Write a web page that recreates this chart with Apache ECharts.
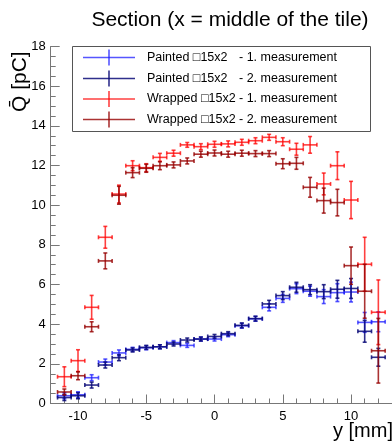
<!DOCTYPE html>
<html>
<head>
<meta charset="utf-8">
<script src="https://cdn.jsdelivr.net/npm/echarts@6/dist/echarts.min.js"></script>
<style>
html,body{margin:0;padding:0;background:#fff;}
#chart{width:392px;height:443px;}
</style>
</head>
<body>
<div id="chart"></div>
<script>
// ---- data ----
const yPositions = [-11,-10,-9,-8,-7,-6,-5,-4,-3,-2,-1,0,1,2,3,4,5,6,7,8,9,10,11,12];
const binHalfWidth = 0.5;
const xMajorTicks = [-10,-5,0,5,10];

const painted1    = [0.39,0.44,1.30,2.09,2.55,2.73,2.81,2.86,3.07,2.93,3.25,3.25,3.47,3.92,4.27,4.85,5.30,5.79,5.66,5.39,5.59,5.62,4.09,4.12];
const painted1Err = [0.15,0.15,0.15,0.15,0.15,0.10,0.10,0.10,0.10,0.10,0.10,0.10,0.10,0.12,0.12,0.18,0.20,0.25,0.25,0.35,0.45,0.50,0.50,0.50];

const painted2    = [0.30,0.39,0.93,1.94,2.31,2.70,2.83,2.86,3.00,3.20,3.25,3.38,3.52,3.94,4.28,5.02,5.44,5.86,5.74,5.64,5.76,5.80,3.64,2.33];
const painted2Err = [0.15,0.15,0.15,0.15,0.15,0.10,0.10,0.10,0.10,0.10,0.10,0.10,0.10,0.12,0.12,0.18,0.20,0.25,0.25,0.35,0.45,0.50,0.55,0.45];

const wrapped1    = [1.35,2.16,4.85,8.38,10.56,11.99,11.89,12.41,12.62,13.04,12.95,13.07,13.09,13.17,13.25,13.42,13.20,12.82,13.04,11.07,11.99,10.26,7.02,4.60];
const wrapped1Err = [0.50,0.55,0.60,0.55,0.45,0.25,0.20,0.20,0.15,0.12,0.15,0.15,0.15,0.15,0.15,0.15,0.20,0.30,0.42,0.55,0.70,0.94,1.36,1.63];

const wrapped2    = [0.58,1.40,3.87,7.19,10.50,11.64,11.86,11.99,12.03,12.23,12.57,12.63,12.57,12.62,12.60,12.60,12.09,12.11,10.90,10.23,10.13,6.95,5.66,2.66];
const wrapped2Err = [0.15,0.20,0.25,0.40,0.45,0.25,0.20,0.20,0.15,0.15,0.15,0.15,0.15,0.15,0.15,0.15,0.25,0.30,0.50,0.63,0.67,0.94,1.36,1.63];

const seriesNames = [
  ['Painted \u25A115x2', '- 1. measurement'],
  ['Painted \u25A115x2', '- 2. measurement'],
  ['Wrapped \u25A115x2', '- 1. measurement'],
  ['Wrapped \u25A115x2', '- 2. measurement']
];
const seriesColors = ['rgba(30,30,255,0.75)','rgba(10,10,120,0.85)','rgba(255,0,0,0.75)','rgba(150,0,0,0.8)'];

const titleText = 'Section (x = middle of the tile)';
const xTitle = 'y [mm]';
const yTitle = 'Q\u0304 [pC]';

// ---- chart ----
const chart = echarts.init(document.getElementById('chart'), null, {renderer:'canvas'});
const FONT = '"Liberation Sans", Arial, Helvetica, sans-serif';

function makeRender(color){
  return function(params, api){
    const x = api.value(0), y = api.value(1), e = api.value(2);
    const l = api.coord([x - binHalfWidth, y]);
    const r = api.coord([x + binHalfWidth, y]);
    const t = api.coord([x, y + e]);
    const b = api.coord([x, y - e]);
    const cap = 2;
    const st = {stroke: color, lineWidth: 1.6, fill: null};
    const L = (x1,y1,x2,y2)=>({type:'line', shape:{x1,y1,x2,y2}, style:st, silent:true});
    return {type:'group', children:[
      L(l[0], l[1], r[0], r[1]),
      L(t[0], t[1], b[0], b[1]),
      L(l[0], l[1]-cap, l[0], l[1]+cap),
      L(r[0], r[1]-cap, r[0], r[1]+cap),
      L(t[0]-cap, t[1], t[0]+cap, t[1]),
      L(b[0]-cap, b[1], b[0]+cap, b[1])
    ]};
  };
}

const allVals = [painted1, painted2, wrapped1, wrapped2];
const allErrs = [painted1Err, painted2Err, wrapped1Err, wrapped2Err];
const series = allVals.map((vals, i) => ({
  type: 'custom',
  name: seriesNames[i].join(' '),
  renderItem: makeRender(seriesColors[i]),
  data: yPositions.map((x, k) => [x, vals[k], allErrs[i][k]]),
  encode: {x: 0, y: 1},
  xAxisIndex: 0,
  clip: false,
  z: 2 + i
}));

// legend as graphic
const legendX = 72, legendY = 46, legendW = 298, legendH = 85;
const rowY = [57.5, 78.5, 99, 119.5];
const legendGraphics = [{
  type:'rect', shape:{x:legendX+0.5, y:legendY+0.5, width:legendW, height:legendH},
  style:{fill:'#fff', stroke:'#555', lineWidth:1}, z:10
}];
rowY.forEach((ry, i) => {
  legendGraphics.push({type:'line', shape:{x1:83, y1:ry, x2:135, y2:ry}, style:{stroke:seriesColors[i], lineWidth:1.6}, z:11});
  legendGraphics.push({type:'line', shape:{x1:109, y1:ry-8, x2:109, y2:ry+8}, style:{stroke:seriesColors[i], lineWidth:1.6}, z:11});
  legendGraphics.push({type:'text', x:147, y:ry, style:{text:seriesNames[i][0], font:'12.5px '+FONT, fill:'#000', textVerticalAlign:'middle', verticalAlign:'middle'}, z:11});
  legendGraphics.push({type:'text', x:239, y:ry, style:{text:seriesNames[i][1], font:'12.5px '+FONT, fill:'#000', textVerticalAlign:'middle', verticalAlign:'middle'}, z:11});
});

const axisGray = '#777';
const option = {
  animation: false,
  backgroundColor: '#fff',
  title: {
    text: titleText, left: 225, top: 5, textAlign: 'center',
    textStyle: {fontFamily: FONT, fontSize: 21, fontWeight: 'normal', color: '#000'}
  },
  grid: {left: 50.7, right: 0, top: 46.5, bottom: 39.5, containLabel: false},
  xAxis: [{
    type: 'value', min: -12, max: 13, interval: 1,
    axisLine: {show: true, onZero: false, lineStyle: {color: axisGray, width: 1}},
    axisTick: {show: true, inside: true, length: 5, lineStyle: {color: axisGray}},
    splitLine: {show: false},
    axisLabel: {show: false}
  }, {
    type: 'value', min: -12, max: 13, position: 'bottom',
    axisLine: {show: false},
    axisTick: {show: true, inside: true, length: 9, customValues: xMajorTicks, lineStyle: {color: axisGray}},
    splitLine: {show: false},
    axisLabel: {show: true, customValues: xMajorTicks, fontFamily: FONT, fontSize: 13, color: '#000', margin: 6}
  }],
  yAxis: {
    type: 'value', min: 0, max: 18, interval: 2,
    axisLine: {show: true, onZero: false, lineStyle: {color: axisGray, width: 1}},
    axisTick: {show: true, inside: true, length: 9, lineStyle: {color: axisGray}},
    minorTick: {show: true, splitNumber: 4, length: 5, lineStyle: {color: axisGray}},
    splitLine: {show: false},
    axisLabel: {fontFamily: FONT, fontSize: 13, color: '#000', margin: 5}
  },
  graphic: [
    {type:'text', left: 333, top: 421, style:{text: xTitle, font: '20px '+FONT, fill:'#000'}},
    {type:'text', x: 10, y: 112, rotation: Math.PI/2, style:{text: yTitle, font: '21px '+FONT, fill:'#000', textVerticalAlign:'top', verticalAlign:'top'}}
  ].concat(legendGraphics),
  series: series
};
chart.setOption(option);
</script>
</body>
</html>
